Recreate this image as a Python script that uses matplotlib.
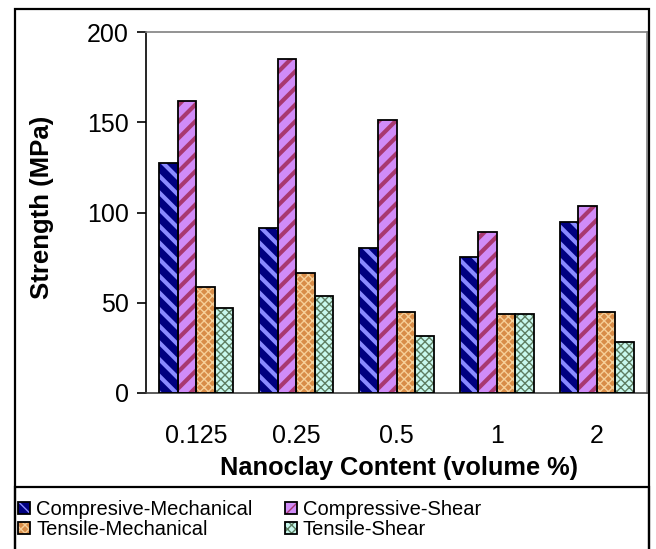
import numpy as np
import matplotlib.pyplot as plt
from matplotlib.patches import Rectangle

plt.rcParams['font.family'] = ['Liberation Sans', 'DejaVu Sans']

# data
categories = ['0.125', '0.25', '0.5', '1', '2']
comp_mech = [127.5, 91.5, 80.5, 75.5, 94.5]
comp_shear = [162, 185, 151, 89, 103.5]
tens_mech = [58.5, 66.5, 45, 44, 45]
tens_shear = [47, 53.5, 31.5, 43.5, 28]

series = ['Compresive-Mechanical', 'Compressive-Shear', 'Tensile-Mechanical', 'Tensile-Shear']
values = [comp_mech, comp_shear, tens_mech, tens_shear]
# (face, hatch colour, hatch, hatch linewidth)
styles = [('#000080', '#8a8aff', '\\\\', 3.0),
          ('#d08cf8', '#a83870', '//', 3.0),
          ('#d88c48', '#f6cf98', 'xxxx', 1.0),
          ('#c8f8ee', '#5e7e62', 'xxxx', 1.0)]

fig = plt.figure(figsize=(6.56, 5.49), dpi=100)
ax = fig.add_axes([146 / 656, 1 - 393 / 549, 501 / 656, 361 / 549])

x = np.arange(len(categories))
w = 0.185
handles = []
for i, (vals, (fc, hc, h, hlw)) in enumerate(zip(values, styles)):
    pos = x + (i - 1.5) * w
    fill = ax.bar(pos, vals, w, color=fc, edgecolor=hc, hatch=h, linewidth=0, zorder=2)
    for b in fill:
        if hasattr(b, 'set_hatch_linewidth'):
            b.set_hatch_linewidth(hlw)
    edge = ax.bar(pos, vals, w, fill=False, edgecolor='black', linewidth=1.3, zorder=3)
    handles.append((fill, edge))

ax.set_xlim(-0.5, len(categories) - 0.5)
ax.set_ylim(0, 200)
ax.set_yticks([0, 50, 100, 150, 200])
ax.set_xticks(x)
ax.set_xticklabels(categories)
ax.tick_params(axis='x', length=0, pad=22, labelsize=18)
ax.tick_params(axis='y', length=6.5, width=1.2, pad=6, labelsize=18)
for s in ['top', 'right']:
    ax.spines[s].set_color('#808080')
    ax.spines[s].set_linewidth(1.2)
ax.spines['left'].set_linewidth(1.2)
ax.spines['bottom'].set_color('#404040')
ax.spines['bottom'].set_linewidth(1.2)

ax.set_ylabel('Strength (MPa)', fontsize=18.5, fontweight='bold', va='center')
ax.yaxis.set_label_coords(-104 / 501, 0.515)
ax.set_xlabel('Nanoclay Content (volume %)', fontsize=18.3, fontweight='bold', va='center')
ax.xaxis.set_label_coords(0.505, -75 / 361)

# chart frame and legend box
fig.patches.append(Rectangle((15 / 656, -0.05), 634 / 656, 1.05 - 9 / 549, transform=fig.transFigure,
                             fill=False, edgecolor='black', linewidth=1.6))
fig.patches.append(Rectangle((15 / 656, -0.05), 634 / 656, 0.05 + 62 / 549, transform=fig.transFigure,
                             fill=False, edgecolor='black', linewidth=1.6))

# legend fills column by column, so order to get rows CM/CS and TM/TS
order = [0, 2, 1, 3]
fig.legend([handles[k] for k in order], [series[k] for k in order],
           loc='upper left', bbox_to_anchor=(18 / 656, 1 - 500 / 549),
           ncol=2, frameon=False, fontsize=14.5, handlelength=0.6, handleheight=0.6,
           handletextpad=0.3, columnspacing=1.6, labelspacing=0.05, borderpad=0, borderaxespad=0)

fig.savefig('out.png', dpi=100)
